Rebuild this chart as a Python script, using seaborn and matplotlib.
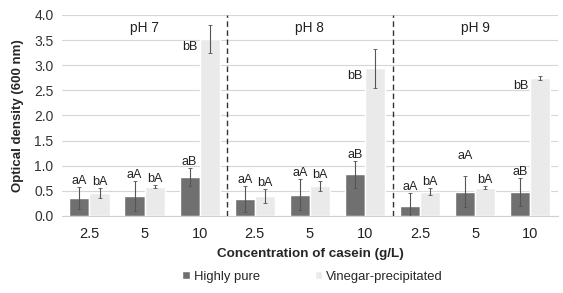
import matplotlib
matplotlib.use('Agg')
import matplotlib.pyplot as plt
import seaborn as sns
import pandas as pd
import numpy as np

# data
ph_groups = ['pH 7', 'pH 8', 'pH 9']
conc = ['2.5', '5', '10']
series = ['Highly pure', 'Vinegar-precipitated']

hp_mean = [0.36, 0.40, 0.78, 0.33, 0.42, 0.83, 0.19, 0.48, 0.48]
hp_err = [0.22, 0.30, 0.18, 0.26, 0.31, 0.27, 0.26, 0.31, 0.28]
vp_mean = [0.45, 0.58, 3.52, 0.40, 0.60, 2.94, 0.48, 0.56, 2.74]
vp_err = [0.10, 0.03, 0.28, 0.14, 0.10, 0.39, 0.07, 0.03, 0.04]
hp_letters = ['aA', 'aA', 'aB', 'aA', 'aA', 'aB', 'aA', 'aA', 'aB']
vp_letters = ['bA', 'bA', 'bB', 'bA', 'bA', 'bB', 'bA', 'bA', 'bB']

cats = [f'{p}|{c}' for p in ph_groups for c in conc]
df = pd.DataFrame({
    'cat': cats * 2,
    'type': [series[0]] * 9 + [series[1]] * 9,
    'od': hp_mean + vp_mean,
})

sns.set_style('white')
plt.rcParams['font.family'] = ['Liberation Sans', 'DejaVu Sans']

fig = plt.figure(figsize=(5.63, 2.93), dpi=100)
ax = fig.add_axes([0.110, 0.263, 0.881, 0.686])

sns.barplot(data=df, x='cat', y='od', hue='type', order=cats,
            hue_order=series, palette=['#707070', '#eaeaea'],
            width=0.73, errorbar=None, ax=ax, zorder=3)

ax.set_ylim(0, 4)
ax.set_xlim(-0.5, 8.5)
ax.set_yticks(np.arange(0, 4.01, 0.5))
ax.set_yticklabels([f'{v:.1f}' for v in np.arange(0, 4.01, 0.5)], fontsize=10, color='#333333')
ax.yaxis.grid(True, color='#d6d6d6', lw=0.8, zorder=0)
ax.set_axisbelow(True)
for s in ['top', 'right', 'left']:
    ax.spines[s].set_visible(False)
ax.spines['bottom'].set_color('#d0d0d0')
ax.tick_params(axis='y', length=0, pad=6)
ax.tick_params(axis='x', length=0, pad=8)
ax.set_xticks(range(9))
ax.set_xticklabels(conc * 3, fontsize=10.5, color='#222222')

ax.set_ylabel('Optical density (600 nm)', fontsize=9.5, fontweight='bold', labelpad=7)
ax.set_xlabel('Concentration of casein (g/L)', fontsize=9.7, fontweight='bold', labelpad=5)

# error bars + letters
for cont, means, errs, letters in zip(ax.containers, [hp_mean, vp_mean],
                                      [hp_err, vp_err], [hp_letters, vp_letters]):
    for i, (bar, m, e, lab) in enumerate(zip(cont, means, errs, letters)):
        xc = bar.get_x() + bar.get_width() / 2
        ax.errorbar(xc, m, yerr=e, fmt='none', ecolor='#555555', elinewidth=0.8,
                    capsize=1.5, capthick=0.6, zorder=4)
        if m > 2:
            ax.text(bar.get_x() - 0.04, m - 0.15, lab, ha='right', va='center',
                    fontsize=9, color='#222222')
        else:
            extra = 0.28 if (i == 7 and cont is ax.containers[0]) else 0.0
            ax.text(xc, m + e + 0.12 + extra, lab, ha='center', va='center',
                    fontsize=9, color='#222222')

# group separators and titles
for k in range(1, 3):
    ax.axvline(3 * k - 0.5, color='#333333', lw=1.0, ls=(0, (4, 2.5)), zorder=5)
for k, p in enumerate(ph_groups):
    ax.text(3 * k + 1, 3.74, p, ha='center', va='center', fontsize=9.8, color='#222222')

handles, labels = ax.get_legend_handles_labels()
ax.get_legend().remove()
fig.legend(handles, labels, loc='center', bbox_to_anchor=(0.555, 0.055), ncol=2,
           frameon=False, fontsize=9.4, handlelength=0.6, handleheight=0.6,
           handletextpad=0.3, columnspacing=4.2)

fig.savefig('out.png', dpi=100)
